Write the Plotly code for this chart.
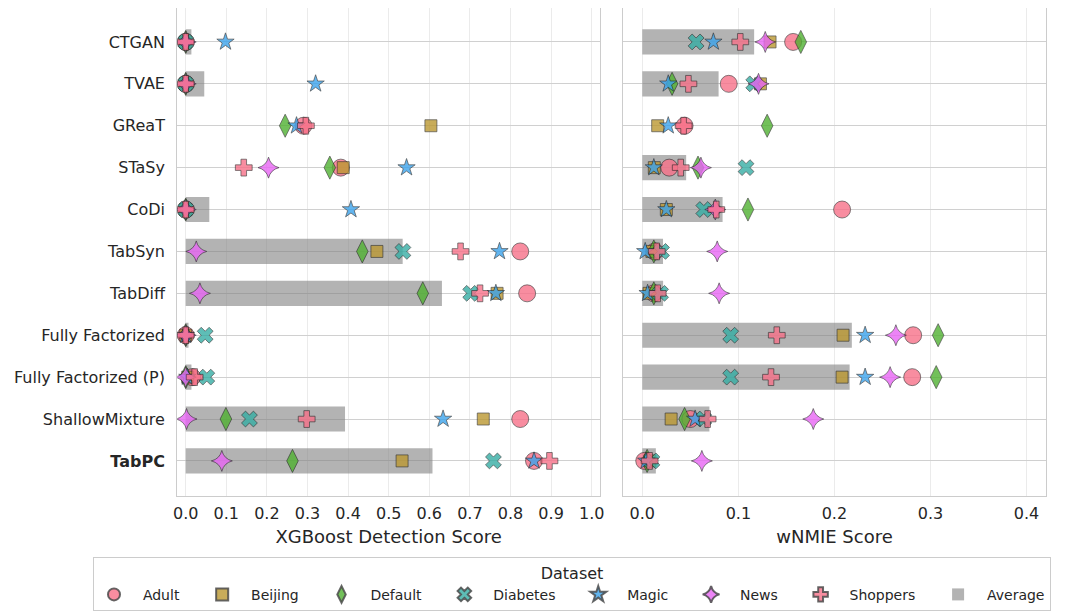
import numpy as np
import plotly.graph_objects as go

models = ["CTGAN", "TVAE", "GReaT", "STaSy", "CoDi", "TabSyn", "TabDiff",
          "Fully Factorized", "Fully Factorized (P)", "ShallowMixture", "TabPC"]
model_labels = [m if m != "TabPC" else "<b>TabPC</b>" for m in models]

datasets = ["Adult", "Beijing", "Default", "Diabetes", "Magic", "News", "Shoppers"]

# XGBoost detection score (lower is better), per dataset, in model order
det_adult    = [0.000, 0.000, 0.290, 0.382, 0.000, 0.824, 0.841, 0.000, 0.016, 0.824, 0.858]
det_beijing  = [0.000, 0.000, 0.604, 0.388, 0.000, 0.471, 0.767, 0.000, 0.005, 0.733, 0.533]
det_default  = [0.000, 0.000, 0.245, 0.355, 0.000, 0.435, 0.584, 0.000, 0.000, 0.099, 0.263]
det_diabetes = [0.000, 0.000, None,  None,  0.000, 0.535, 0.702, 0.048, 0.052, 0.157, 0.758]
det_magic    = [0.098, 0.320, 0.273, 0.544, 0.407, 0.773, 0.764, 0.000, 0.004, 0.634, 0.858]
det_news     = [0.000, 0.000, None,  0.204, 0.000, 0.026, 0.035, 0.000, 0.000, 0.002, 0.089]
det_shoppers = [0.000, 0.000, 0.296, 0.143, 0.000, 0.677, 0.725, 0.000, 0.022, 0.298, 0.896]

# wNMIE score
nmie_adult    = [0.157, 0.090, 0.044, 0.028, 0.208, 0.013, 0.012, 0.282, 0.281, 0.050, 0.002]
nmie_beijing  = [0.133, 0.123, 0.016, 0.0125, 0.025, 0.010, 0.007, 0.209, 0.208, 0.030, 0.008]
nmie_default  = [0.165, 0.031, 0.130, 0.058, 0.110, 0.012, 0.012, 0.308, 0.306, 0.044, 0.005]
nmie_diabetes = [0.056, 0.116, None,  0.108, 0.064, 0.020, 0.019, 0.092, 0.092, 0.064, 0.010]
nmie_magic    = [0.074, 0.027, 0.027, 0.012, 0.025, 0.003, 0.0055, 0.232, 0.232, 0.055, 0.004]
nmie_news     = [0.128, 0.121, None,  0.061, 0.076, 0.078, 0.080, 0.264, 0.258, 0.178, 0.062]
nmie_shoppers = [0.102, 0.048, 0.043, 0.040, 0.077, 0.015, 0.016, 0.140, 0.134, 0.068, 0.0076]

det = [det_adult, det_beijing, det_default, det_diabetes, det_magic, det_news, det_shoppers]
nmie = [nmie_adult, nmie_beijing, nmie_default, nmie_diabetes, nmie_magic, nmie_news, nmie_shoppers]

x_ticks_left = [0.0, 0.1, 0.2, 0.3, 0.4, 0.5, 0.6, 0.7, 0.8, 0.9, 1.0]
x_ticks_right = [0.0, 0.1, 0.2, 0.3, 0.4]

colors = ["#f77189", "#bb9832", "#50b131", "#36ada4", "#3ba3ec", "#e866f4", "#f77189"]
symbols = ["circle", "square", "diamond-tall", "x", "star", "star-diamond", "cross"]
sizes = [17, 12, 16.5, 14, 13, 15, 14]


def averages(series):
    arr = np.array([[np.nan if v is None else v for v in s] for s in series], dtype=float)
    avg = arr.mean(axis=0)
    return [None if np.isnan(a) else float(a) for a in avg]


avg_det = averages(det)
avg_nmie = averages(nmie)

TXT = "#262626"
FONT = "DejaVu Sans"
NB = "\u00a0"


def legend_name(s, trail=4):
    return NB * 2 + s + NB * trail


fig = go.Figure()

# Average bars
bar_marker = dict(color="rgba(128,128,128,0.6)", line=dict(width=0))
fig.add_trace(go.Bar(x=avg_det, y=models, orientation="h", width=0.6, base=0,
                     marker=bar_marker, name=legend_name("Average", 0), legendrank=999,
                     showlegend=True, xaxis="x", yaxis="y"))
fig.add_trace(go.Bar(x=avg_nmie, y=models, orientation="h", width=0.6, base=0,
                     marker=bar_marker, name="Average", showlegend=False,
                     xaxis="x2", yaxis="y2"))

for i, ds in enumerate(datasets):
    mk = dict(symbol=symbols[i], size=sizes[i], color=colors[i], opacity=0.8,
              line=dict(color="rgba(30,30,30,0.85)", width=0.8))
    fig.add_trace(go.Scatter(x=det[i], y=models, mode="markers", marker=mk,
                             name=legend_name(ds), legendrank=i + 1, xaxis="x", yaxis="y"))
    fig.add_trace(go.Scatter(x=nmie[i], y=models, mode="markers", marker=mk, name=ds,
                             showlegend=False, xaxis="x2", yaxis="y2"))

W, H = 1067, 612
OFF = 8  # page body margin
ydom = [1 - (495.7 - OFF) / H, 1.0]

xcommon = dict(showgrid=True, gridcolor="#ebebeb", gridwidth=1, zeroline=False,
               showline=True, linecolor="#cccccc", linewidth=1.3, mirror=True,
               ticks="", ticklabelstandoff=3,
               tickfont=dict(size=16, color=TXT, family=FONT), automargin=False)
ycommon = dict(domain=ydom, type="category", categoryorder="array", categoryarray=models,
               range=[10.83, -0.81], showgrid=True, gridcolor="#d0d0d0", gridwidth=1.2,
               zeroline=False, showline=True, linecolor="#cccccc", linewidth=1.3,
               mirror=True, ticks="", automargin=False)

fig.update_layout(
    width=W, height=H,
    margin=dict(l=0, r=0, t=0, b=0),
    paper_bgcolor="white", plot_bgcolor="white",
    font=dict(family=FONT, color=TXT),
    barmode="overlay",
    xaxis=dict(domain=[(177.3 - OFF) / W, (600 - OFF) / W], range=[-0.0207, 1.0205],
               tickvals=x_ticks_left, ticktext=[f"{v:.1f}" for v in x_ticks_left],
               title=dict(text="XGBoost Detection Score",
                          font=dict(size=18, color=TXT, family=FONT), standoff=8),
               anchor="y", **xcommon),
    xaxis2=dict(domain=[(623.3 - OFF) / W, (1045.7 - OFF) / W], range=[-0.0198, 0.420],
                tickvals=x_ticks_right, ticktext=[f"{v:.1f}" for v in x_ticks_right],
                title=dict(text="wNMIE Score", font=dict(size=18, color=TXT, family=FONT),
                           standoff=8),
                anchor="y2", **xcommon),
    yaxis=dict(tickvals=models, ticktext=model_labels, ticklabelstandoff=8,
               tickfont=dict(size=16, color=TXT, family=FONT), anchor="x", **ycommon),
    yaxis2=dict(showticklabels=False, anchor="x2", **ycommon),
    legend=dict(orientation="h", x=(93 - OFF) / W, xanchor="left",
                y=1 - (557 - OFF) / H, yanchor="top",
                title=dict(text="Dataset", side="top center",
                           font=dict(size=16, color=TXT, family=FONT)),
                font=dict(size=14, color=TXT, family=FONT),
                bordercolor="#cccccc", borderwidth=1, bgcolor="white",
                itemsizing="constant", traceorder="normal"),
)

fig.write_html("out.html")
